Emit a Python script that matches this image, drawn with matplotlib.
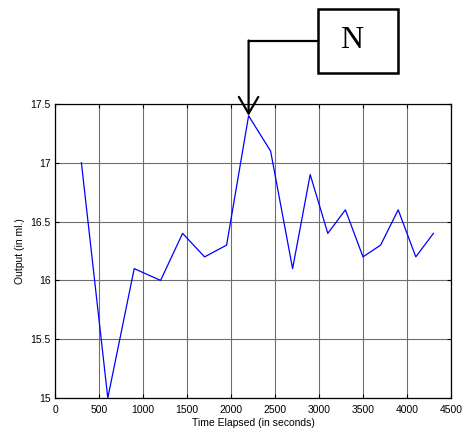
import matplotlib
matplotlib.use("Agg")
import matplotlib.pyplot as plt
from matplotlib.patches import Rectangle
from matplotlib.lines import Line2D
from matplotlib.transforms import blended_transform_factory

# sampling times (s) and measured output (ml)
time_s = [300, 600, 900, 1200, 1450, 1700, 1950, 2200, 2450, 2700,
          2900, 3100, 3300, 3500, 3700, 3900, 4100, 4300]
output_ml = [17.0, 15.0, 16.1, 16.0, 16.4, 16.2, 16.3, 17.4, 17.1, 16.1,
             16.9, 16.4, 16.6, 16.2, 16.3, 16.6, 16.2, 16.4]

x_ticks = [0, 500, 1000, 1500, 2000, 2500, 3000, 3500, 4000, 4500]
y_ticks = [15, 15.5, 16, 16.5, 17, 17.5]
y_labels = ["15", "15.5", "16", "16.5", "17", "17.5"]

plt.rcParams['font.family'] = ['Liberation Sans', 'DejaVu Sans']

W, H = 465, 434
fig = plt.figure(figsize=(W / 100, H / 100), dpi=100)
ax = fig.add_axes([55 / W, 1 - 398 / H, (451 - 55) / W, (398 - 104) / H])

ax.plot(time_s, output_ml, color='#0000ff', lw=0.9)

ax.set_xlim(0, 4500)
ax.set_ylim(15, 17.5)
ax.set_xticks(x_ticks)
ax.set_yticks(y_ticks)
ax.set_yticklabels(y_labels)
ax.grid(True, color='#6f6f6f', lw=0.8)
ax.tick_params(direction='in', top=True, right=True, labelsize=7.5,
               length=3)
ax.tick_params(axis='x', pad=5)
ax.tick_params(axis='y', pad=3)
for s in ax.spines.values():
    s.set_linewidth(0.9)
ax.set_xlabel("Time Elapsed (in seconds)", fontsize=7.5, labelpad=2)
ax.set_ylabel("Output (in ml.)", fontsize=7.5, labelpad=4)

# callout: box with label, leader line and arrow down to the peak
i_peak = output_ml.index(max(output_ml))
px, py = time_s[i_peak], output_ml[i_peak]
trans = blended_transform_factory(ax.transData, fig.transFigure)
y_lead = 1 - 40.5 / H
ax.annotate('', xy=(px, py), xycoords='data',
            xytext=(px, y_lead), textcoords=trans,
            arrowprops=dict(arrowstyle='->,head_length=0.6,head_width=0.35',
                            mutation_scale=20, lw=1.6, color='black',
                            shrinkA=0, shrinkB=0),
            annotation_clip=False)

# horizontal leader from the arrow's top to the box
x_pk_fig = fig.transFigure.inverted().transform(ax.transData.transform((px, py)))[0]
box_l, box_r, box_t, box_b = 318 / W, 398 / W, 1 - 9 / H, 1 - 73 / H
fig.add_artist(Line2D([x_pk_fig, box_l], [y_lead, y_lead],
                      color='black', lw=1.6, transform=fig.transFigure))
fig.add_artist(Rectangle((box_l, box_b), box_r - box_l, box_t - box_b,
                         fill=False, edgecolor='black', lw=1.8,
                         transform=fig.transFigure))
fig.text(352 / W, 1 - 41 / H, "N", fontsize=23,
         family='Liberation Serif', ha='center', va='center')

fig.savefig("out.png", dpi=100)
